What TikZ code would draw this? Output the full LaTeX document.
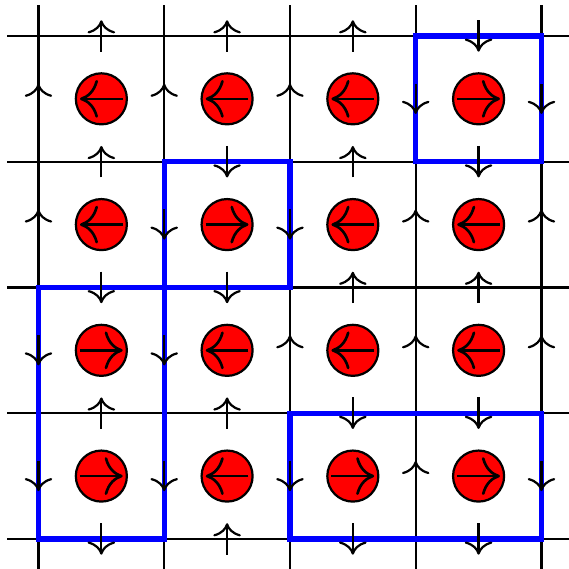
\documentclass[tikz,border=0pt]{standalone}
\usepackage{tikz}
\usetikzlibrary{arrows.meta}
\usepackage{xcolor}
\definecolor{SpinRed}{RGB}{255,0,0}
\definecolor{ClusterBlue}{RGB}{0,0,255}

\begin{document}
\begin{tikzpicture}[
            lattice/.style={draw, line width=0.5pt},
            cluster/.style={draw=ClusterBlue, line width=1.2pt},
            spin/.style={circle, draw, fill=SpinRed, minimum size=0.406cm, inner sep=0pt, line width=0.5pt},
            flux/.style={-{To[scale=1.1]}, line width=0.5pt},
            spinarr/.style={-{To[scale=1.4]}, line width=0.6pt}
        ]
            \useasboundingbox (-0.306,-0.239) rectangle (4.215,4.286);
            % square lattice
            \foreach \k in {0,...,4} {
                \draw[lattice] (\k,-0.24) -- (\k,4.25);
                \draw[lattice] (-0.25,\k) -- (4.22,\k);
            }
            % blue clusters
            \draw[cluster] (3,3) rectangle (4,4);
            \draw[cluster] (1,2) rectangle (2,3);
            \draw[cluster] (0,0) rectangle (1,2);
            \draw[cluster] (2,0) rectangle (4,1);
            % arrows across the horizontal lines (row k from the top)
            \foreach \k/\i/\u in {0/0/1, 0/1/1, 0/2/1, 0/3/-1,
                                  1/0/1, 1/1/-1, 1/2/1, 1/3/-1,
                                  2/0/-1, 2/1/-1, 2/2/1, 2/3/1,
                                  3/0/1, 3/1/1, 3/2/-1, 3/3/-1,
                                  4/0/-1, 4/1/1, 4/2/-1, 4/3/-1}
                \draw[flux] (\i+0.5,4-\k) ++(0,-0.125*\u) -- ++(0,0.25*\u);
            % arrows along the vertical lines (row j from the top)
            \foreach \j/\m/\u in {0/0/1, 0/1/1, 0/2/1, 0/3/-1, 0/4/-1,
                                  1/0/1, 1/1/-1, 1/2/-1, 1/3/1, 1/4/1,
                                  2/0/-1, 2/1/-1, 2/2/1, 2/3/1, 2/4/1,
                                  3/0/-1, 3/1/-1, 3/2/-1, 3/3/1, 3/4/-1}
                \draw[flux] (\m,3.5-\j) ++(0,-0.12*\u) -- ++(0,0.24*\u);
            % spins
            \foreach \j/\i/\d in {0/0/-1, 0/1/-1, 0/2/-1, 0/3/1,
                                  1/0/-1, 1/1/1, 1/2/-1, 1/3/-1,
                                  2/0/1, 2/1/-1, 2/2/-1, 2/3/-1,
                                  3/0/1, 3/1/-1, 3/2/1, 3/3/1} {
                \node[spin] (s\i\j) at (\i+0.5,3.5-\j) {};
                \draw[spinarr] (s\i\j.center) ++(-0.17*\d,0) -- ++(0.34*\d,0);
            }
        \end{tikzpicture}
\end{document}
